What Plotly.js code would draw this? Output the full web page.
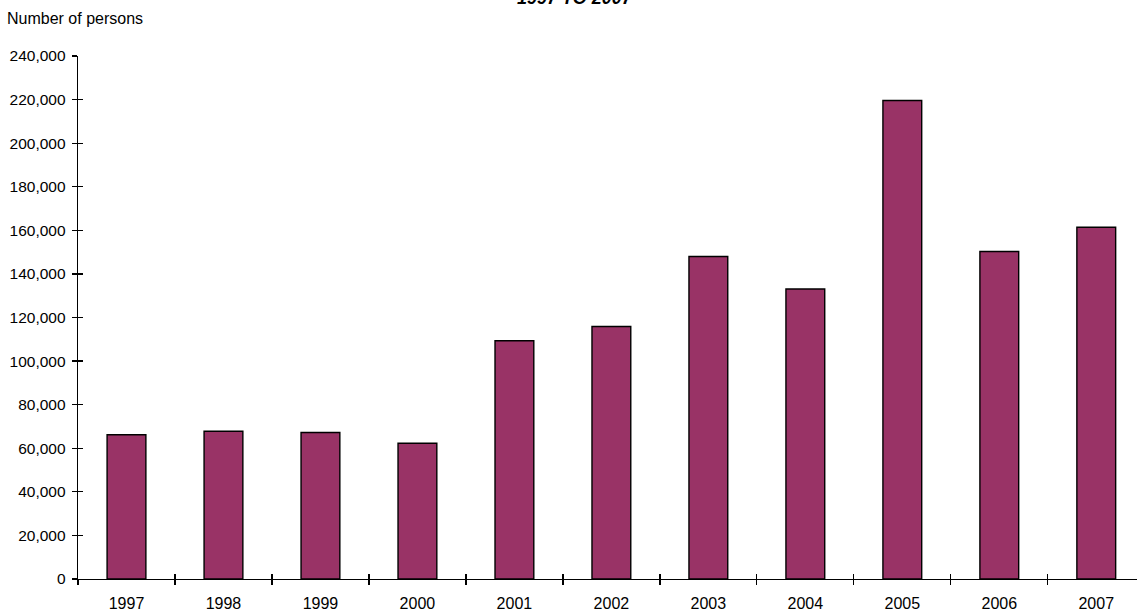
<!DOCTYPE html>
<html>
<head>
<meta charset="utf-8">
<script src="https://cdn.plot.ly/plotly-3.0.1.min.js"></script>
<style>html,body{margin:0;padding:0;background:#fff;}#chart{width:1137px;height:612px;}</style>
</head>
<body>
<div id="chart"></div>
<script>
const years = [1997, 1998, 1999, 2000, 2001, 2002, 2003, 2004, 2005, 2006, 2007];
const persons = [66200, 67800, 67200, 62300, 109300, 115900, 148000, 133100, 219600, 150300, 161400];
const yTickVals = [0, 20000, 40000, 60000, 80000, 100000, 120000, 140000, 160000, 180000, 200000, 220000, 240000];
const titleText = '1997 TO 2007';
const yLabelText = 'Number of persons';

const FONT = 'Liberation Sans, Arial, sans-serif';

const trace = {
  type: 'bar',
  x: years,
  y: persons,
  width: 0.4,
  marker: {color: '#993366', line: {color: '#000000', width: 1.4}},
  hoverinfo: 'x+y'
};

const xRange = [1996.5, 2007.42];
const yRange = [0, 240000];

const layout = {
  width: 1137,
  height: 612,
  margin: {l: 78, r: 0, t: 56, b: 33, pad: 0},
  paper_bgcolor: '#ffffff',
  plot_bgcolor: '#ffffff',
  showlegend: false,
  font: {family: FONT, size: 16, color: '#000000'},
  bargap: 0.6,
  xaxis: {
    type: 'linear',
    range: xRange,
    tickvals: years,
    ticktext: years.map(String),
    ticks: '',
    showline: true, linecolor: '#000000', linewidth: 1.3,
    showgrid: false, zeroline: false,
    minor: {tick0: 1996.5, dtick: 1, ticks: 'outside', ticklen: 5, tickcolor: '#000000', tickwidth: 1.3, showgrid: false},
    tickfont: {family: FONT, size: 16, color: '#000000'},
    ticklabelstandoff: 9,
    fixedrange: true
  },
  xaxis2: {
    type: 'linear',
    overlaying: 'x',
    anchor: 'y',
    side: 'bottom',
    range: xRange,
    tick0: 1996.5, dtick: 1,
    ticks: 'inside', ticklen: 5, tickcolor: '#000000', tickwidth: 1.3,
    showticklabels: false, showgrid: false, zeroline: false, showline: false,
    fixedrange: true
  },
  yaxis: {
    range: yRange,
    tickvals: yTickVals,
    tickformat: ',',
    ticks: 'outside', ticklen: 5, tickcolor: '#000000', tickwidth: 1.3,
    showline: true, linecolor: '#000000', linewidth: 1.3,
    showgrid: false, zeroline: false,
    tickfont: {family: FONT, size: 15.5, color: '#000000'},
    ticklabelstandoff: 3,
    fixedrange: true
  },
  yaxis2: {
    overlaying: 'y',
    anchor: 'x',
    side: 'left',
    range: yRange,
    tickvals: yTickVals,
    ticks: 'inside', ticklen: 5, tickcolor: '#000000', tickwidth: 1.3,
    showticklabels: false, showgrid: false, zeroline: false, showline: false,
    fixedrange: true
  },
  annotations: [
    {
      text: '<b><i>' + titleText + '</i></b>',
      xref: 'paper', yref: 'paper', x: 0.4693, y: 1,
      xanchor: 'center', yanchor: 'bottom', yshift: 46,
      showarrow: false,
      font: {family: FONT, size: 18, color: '#000000'}
    },
    {
      text: yLabelText,
      xref: 'paper', yref: 'paper', x: 0, y: 1,
      xanchor: 'left', yanchor: 'bottom', xshift: -73, yshift: 27,
      showarrow: false,
      font: {family: FONT, size: 16, color: '#000000'}
    }
  ]
};

const dummyX2 = {type: 'scatter', x: [], y: [], xaxis: 'x2', yaxis: 'y2', showlegend: false, hoverinfo: 'skip'};

Plotly.newPlot('chart', [trace, dummyX2], layout, {displayModeBar: false, staticPlot: true});
</script>
</body>
</html>
